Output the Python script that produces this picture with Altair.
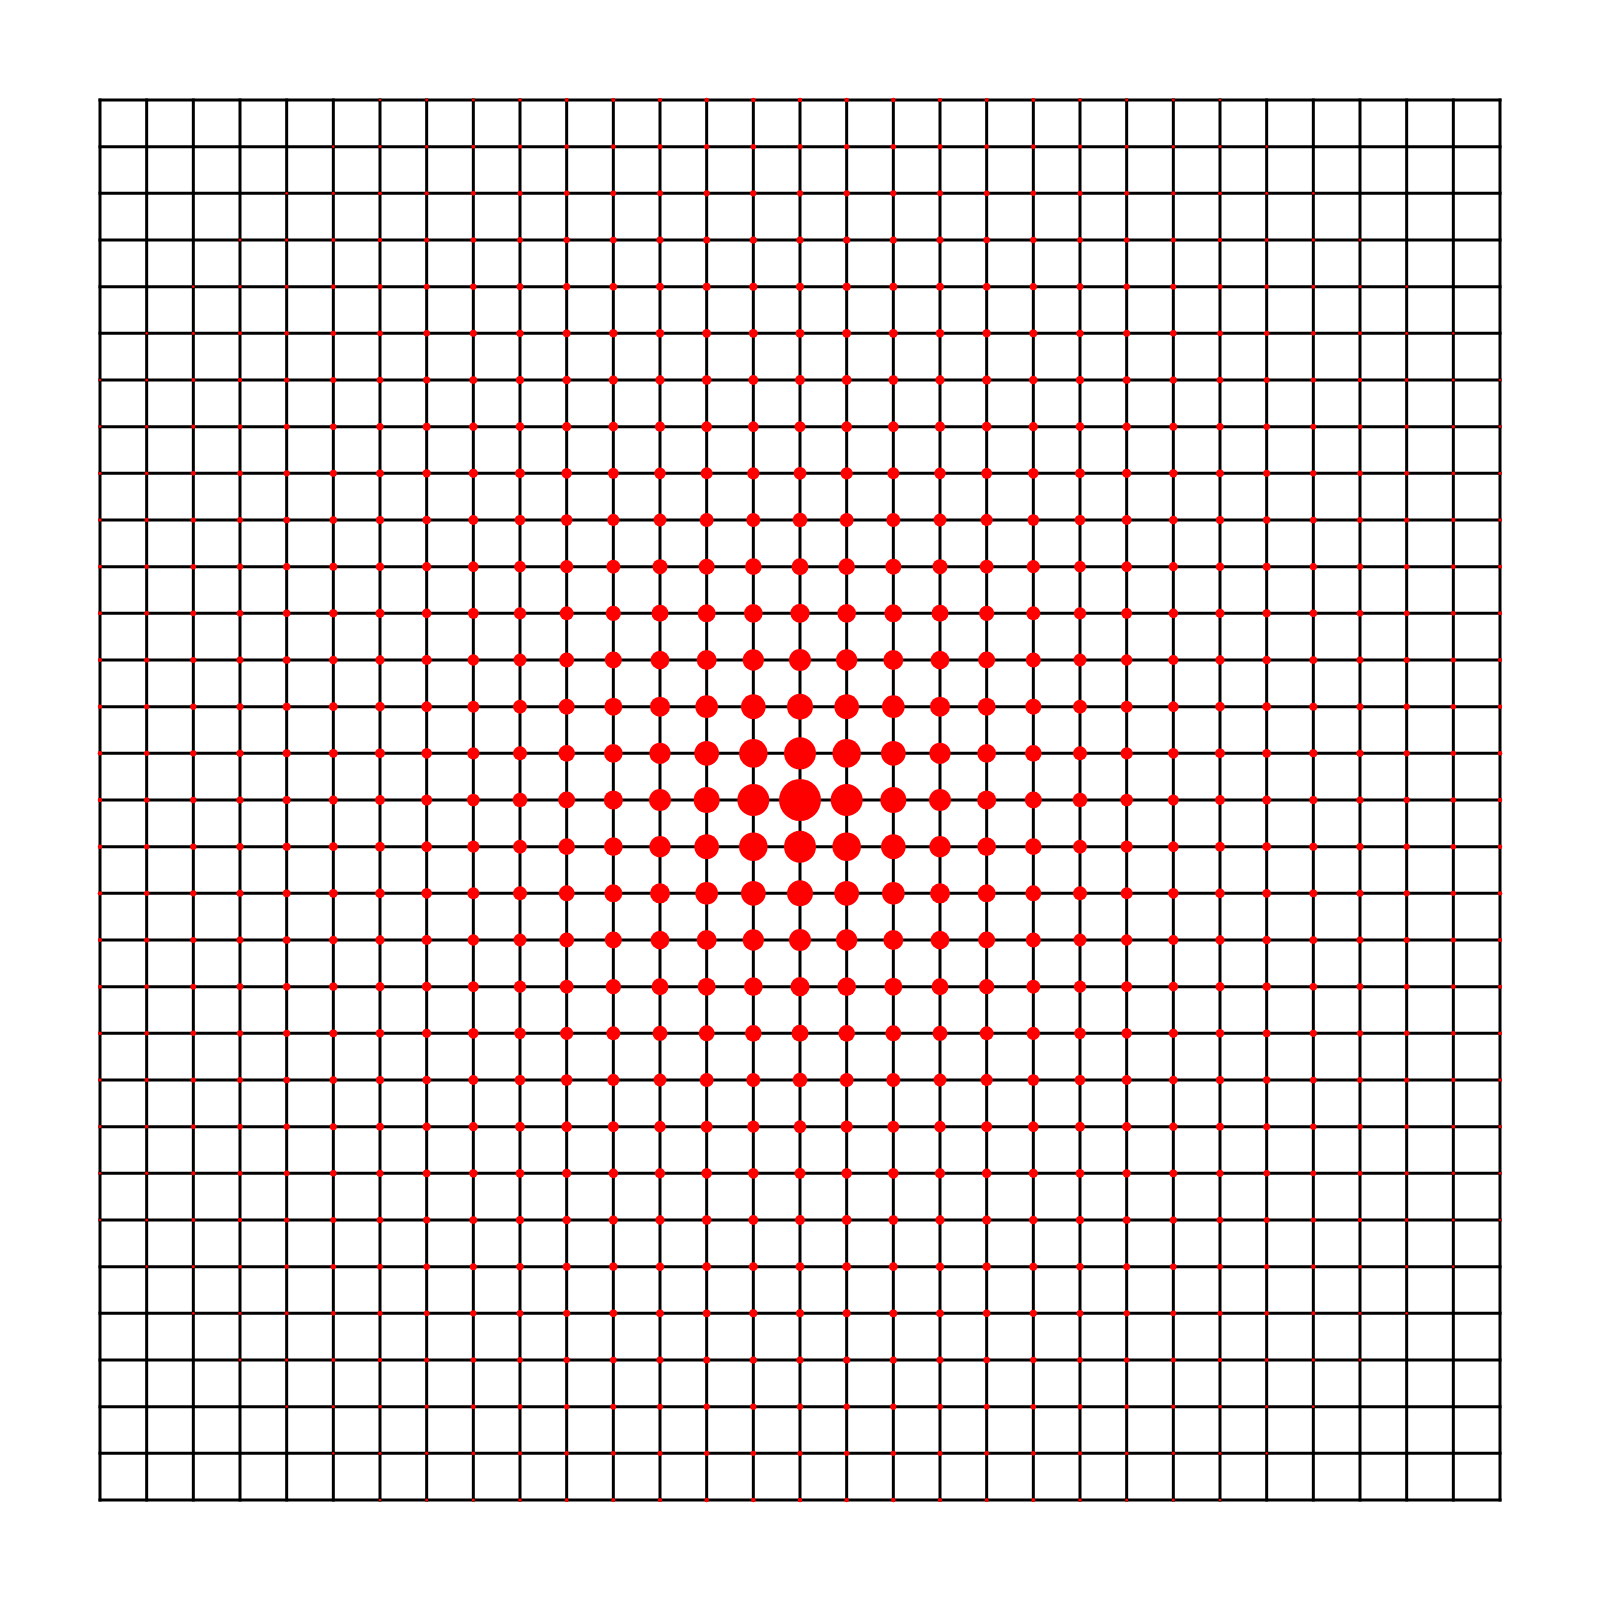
import altair as alt
import pandas as pd

# grid line positions (31 lines each way)
grid_positions = list(range(0, 31))
center = 15

# dot diameters (px), for |dx| (columns) and |dy| (rows) = 0..15 from the centre
quadrant = [
    [42.0, 32.0, 26.0, 22.0, 19.2, 17.0, 14.6, 12.7, 11.0, 9.8, 8.9, 8.0, 7.2, 6.3, 5.4, 4.5],
    [32.0, 28.5, 24.7, 21.3, 18.7, 16.7, 14.0, 12.2, 10.7, 9.8, 8.9, 8.0, 7.2, 6.3, 5.4, 4.5],
    [26.0, 24.7, 22.7, 20.0, 18.0, 16.0, 14.0, 12.0, 10.7, 9.6, 8.8, 7.9, 7.0, 6.2, 5.3, 4.4],
    [22.0, 21.3, 20.0, 18.7, 17.0, 15.0, 13.0, 11.6, 10.2, 9.3, 8.5, 7.7, 6.9, 6.0, 5.1, 4.2],
    [19.2, 18.7, 18.0, 17.0, 15.3, 14.0, 12.3, 11.0, 9.6, 9.1, 8.2, 7.5, 6.6, 5.7, 4.8, 4.0],
    [17.0, 16.7, 16.0, 15.0, 14.0, 13.3, 11.7, 10.6, 9.2, 8.5, 7.9, 7.1, 6.3, 5.5, 4.6, 3.8],
    [14.6, 14.0, 14.0, 13.0, 12.3, 11.7, 10.7, 9.8, 8.7, 8.1, 7.4, 6.7, 5.9, 5.1, 4.3, 3.5],
    [12.7, 12.2, 12.0, 11.6, 11.0, 10.6, 9.8, 9.3, 8.4, 7.7, 7.0, 6.3, 5.6, 4.8, 3.9, 3.1],
    [11.0, 10.7, 10.7, 10.2, 9.6, 9.2, 8.7, 8.4, 7.8, 7.1, 6.5, 5.8, 5.0, 4.2, 3.5, 2.8],
    [9.8, 9.8, 9.6, 9.3, 9.1, 8.5, 8.1, 7.7, 7.1, 6.6, 5.9, 5.2, 4.5, 3.8, 3.1, 2.4],
    [8.9, 8.9, 8.8, 8.5, 8.2, 7.9, 7.4, 7.0, 6.5, 5.9, 5.3, 4.6, 4.0, 3.3, 2.6, 0.0],
    [8.0, 8.0, 7.9, 7.7, 7.5, 7.1, 6.7, 6.3, 5.8, 5.2, 4.6, 4.0, 3.4, 2.8, 0.0, 0.0],
    [7.2, 7.2, 7.0, 6.9, 6.6, 6.3, 5.9, 5.6, 5.0, 4.5, 4.0, 3.4, 2.8, 0.0, 0.0, 0.0],
    [6.3, 6.3, 6.2, 6.0, 5.7, 5.5, 5.1, 4.8, 4.2, 3.8, 3.3, 2.8, 0.0, 0.0, 0.0, 0.0],
    [5.4, 5.4, 5.3, 5.1, 4.8, 4.6, 4.3, 3.9, 3.5, 3.1, 2.6, 0.0, 0.0, 0.0, 0.0, 0.0],
    [4.5, 4.5, 4.4, 4.2, 4.0, 3.8, 3.5, 3.1, 2.8, 2.4, 0.0, 0.0, 0.0, 0.0, 0.0, 0.0],
]

# build tables
lines_df = pd.DataFrame({"pos": grid_positions, "lo": 0, "hi": 30})

pts = []
for gy in grid_positions:
    for gx in grid_positions:
        v = quadrant[abs(gy - center)][abs(gx - center)]
        if v > 0:
            pts.append({"gx": gx, "gy": gy, "v": v})
pts_df = pd.DataFrame(pts)

xscale = alt.Scale(domain=[0, 30], nice=False, zero=False)
yscale = alt.Scale(domain=[0, 30], nice=False, zero=False)

vlines = alt.Chart(lines_df).mark_rule(color="#000000", strokeWidth=3, strokeCap="square").encode(
    x=alt.X("pos:Q", scale=xscale, axis=None),
    y=alt.Y("lo:Q", scale=yscale, axis=None),
    y2="hi:Q",
)
hlines = alt.Chart(lines_df).mark_rule(color="#000000", strokeWidth=3, strokeCap="square").encode(
    y=alt.Y("pos:Q", scale=yscale, axis=None),
    x=alt.X("lo:Q", scale=xscale, axis=None),
    x2="hi:Q",
)
dots = alt.Chart(pts_df).mark_circle(color="#ff0000", opacity=1).encode(
    x=alt.X("gx:Q", scale=xscale, axis=None),
    y=alt.Y("gy:Q", scale=yscale, axis=None),
    size=alt.Size("v:Q", scale=alt.Scale(type="pow", exponent=2, domain=[0, 42], range=[0, 1764]), legend=None),
)

chart = alt.layer(vlines, hlines, dots).properties(
    width=1400,
    height=1400,
    autosize=alt.AutoSizeParams(type="none"),
    padding={"left": 92, "top": 92, "right": 92, "bottom": 92},
    background="white",
).configure_view(strokeWidth=0)

chart.save("out.html", embed_options={"renderer": "svg", "actions": False})
